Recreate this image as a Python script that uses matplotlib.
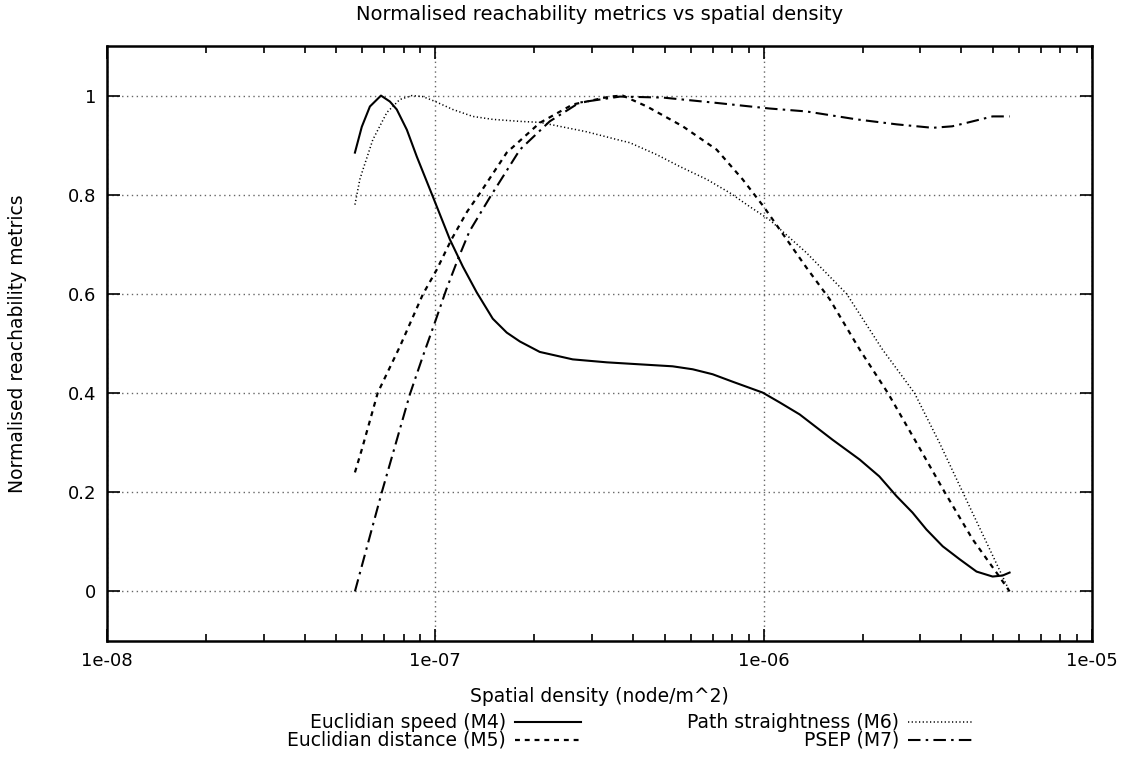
import numpy as np
import matplotlib
matplotlib.use('Agg')
import matplotlib.pyplot as plt
from matplotlib.lines import Line2D
from matplotlib.ticker import LogLocator, NullFormatter

plt.rcParams['font.family'] = ['DejaVu Sans']
plt.rcParams['font.size'] = 13.5

# datos (densidad, metrica normalizada)
m4_x = [5.69e-8, 5.97e-8, 6.32e-8, 6.83e-8, 7.27e-8, 7.63e-8, 8.19e-8, 8.78e-8, 9.83e-8,
        1.107e-7, 1.213e-7, 1.337e-7, 1.496e-7, 1.65e-7, 1.81e-7, 2.08e-7, 2.62e-7,
        3.33e-7, 4.19e-7, 5.28e-7, 6.08e-7, 6.99e-7, 8.04e-7, 9.93e-7, 1.12e-6,
        1.287e-6, 1.62e-6, 1.96e-6, 2.25e-6, 2.54e-6, 2.84e-6, 3.13e-6, 3.51e-6,
        3.95e-6, 4.45e-6, 4.98e-6, 5.34e-6, 5.61e-6]
m4_y = [0.885, 0.937, 0.978, 1.0, 0.988, 0.972, 0.931, 0.877, 0.796,
        0.710, 0.655, 0.603, 0.550, 0.522, 0.504, 0.483, 0.468,
        0.462, 0.458, 0.454, 0.448, 0.438, 0.423, 0.401, 0.381,
        0.357, 0.306, 0.266, 0.232, 0.192, 0.159, 0.125, 0.091,
        0.065, 0.040, 0.030, 0.032, 0.038]

m5_x = [5.69e-8, 5.97e-8, 6.68e-8, 7.8e-8, 9.16e-8, 1.01e-7, 1.12e-7, 1.25e-7, 1.37e-7,
        1.65e-7, 2.08e-7, 2.62e-7, 3.4e-7, 3.72e-7, 4.41e-7, 5.67e-7, 7.19e-7, 8.63e-7,
        1.0e-6, 1.35e-6, 1.59e-6, 1.96e-6, 2.39e-6, 2.92e-6, 3.56e-6, 4.33e-6,
        5.22e-6, 5.61e-6]
m5_y = [0.24, 0.286, 0.401, 0.494, 0.599, 0.649, 0.710, 0.766, 0.804,
        0.885, 0.945, 0.982, 0.998, 1.0, 0.978, 0.938, 0.891, 0.831,
        0.776, 0.653, 0.589, 0.488, 0.4, 0.3, 0.2, 0.105,
        0.03, 0.0]

m6_x = [5.69e-8, 5.89e-8, 6.02e-8, 6.19e-8, 6.45e-8, 7.12e-8, 7.79e-8, 8.48e-8, 9.16e-8,
        1.0e-7, 1.13e-7, 1.30e-7, 1.496e-7, 1.81e-7, 2.08e-7, 2.39e-7, 2.89e-7,
        3.59e-7, 3.91e-7, 4.72e-7, 5.55e-7, 6.71e-7, 7.88e-7, 9.07e-7, 1.04e-6,
        1.35e-6, 1.79e-6, 2.30e-6, 2.88e-6, 3.43e-6, 4.04e-6, 4.77e-6, 5.61e-6]
m6_y = [0.780, 0.831, 0.851, 0.875, 0.911, 0.966, 0.992, 1.0, 0.998,
        0.988, 0.972, 0.958, 0.952, 0.948, 0.946, 0.938, 0.927,
        0.911, 0.905, 0.881, 0.857, 0.831, 0.804, 0.776, 0.75,
        0.683, 0.6, 0.488, 0.4, 0.3, 0.2, 0.099, 0.0]

m7_x = [5.69e-8, 6.87e-8, 8.36e-8, 9.16e-8, 1.0e-7, 1.08e-7, 1.17e-7, 1.27e-7, 1.47e-7,
        1.81e-7, 2.23e-7, 2.75e-7, 3.65e-7, 4.93e-7, 7.0e-7, 1.04e-6, 1.35e-6,
        1.92e-6, 2.54e-6, 3.27e-6, 3.75e-6, 4.15e-6, 4.98e-6, 5.61e-6]
m7_y = [0.0, 0.2, 0.397, 0.474, 0.545, 0.609, 0.669, 0.726, 0.796,
        0.891, 0.948, 0.986, 0.998, 0.996, 0.986, 0.974, 0.968,
        0.952, 0.942, 0.935, 0.938, 0.945, 0.958, 0.958]

labels = ['Euclidian speed (M4)', 'Euclidian distance (M5)',
          'Path straightness (M6)', 'PSEP (M7)']
estilos = [('-', 1.5), ((0, (2.2, 2.2)), 1.6), ((0, (0.8, 1.6)), 1.1),
           ((0, (6, 2.5, 1.2, 2.5)), 1.5)]

W, H = 1126, 769
fig = plt.figure(figsize=(W/100, H/100), dpi=100)
ax = fig.add_axes([107/W, 1-641/H, (1092-107)/W, (641-46)/H])

series = [(m4_x, m4_y), (m5_x, m5_y), (m6_x, m6_y), (m7_x, m7_y)]
for (xs, ys), (ls, lw) in zip(series, estilos):
    ax.plot(xs, ys, color='black', linestyle=ls, linewidth=lw)

ax.set_xscale('log')
ax.set_xlim(1e-8, 1e-5)
ax.set_ylim(-0.1, 1.1)
ax.set_xticks([1e-8, 1e-7, 1e-6, 1e-5])
ax.set_xticklabels(['1e-08', '1e-07', '1e-06', '1e-05'])
ax.xaxis.set_minor_locator(LogLocator(base=10, subs=np.arange(2, 10)))
ax.xaxis.set_minor_formatter(NullFormatter())
ax.set_yticks([0, 0.2, 0.4, 0.6, 0.8, 1])
ax.set_yticklabels(['0', '0.2', '0.4', '0.6', '0.8', '1'])

ax.tick_params(which='both', direction='in', top=True, right=True, width=1.2,
               labelsize=13)
ax.tick_params(which='major', length=9, pad=8)
ax.tick_params(which='minor', length=5)
for s in ax.spines.values():
    s.set_linewidth(1.8)

ax.grid(True, which='major', color='0.4', linestyle=(0, (1, 2.5)), linewidth=1)

ax.set_xlabel('Spatial density (node/m^2)', va='center')
ax.xaxis.set_label_coords(0.5, (641-697)/(641-46))
ax.set_ylabel('Normalised reachability metrics', va='center')
ax.yaxis.set_label_coords((18-107)/(1092-107), 0.5)
fig.text(600/W, 1-15/H, 'Normalised reachability metrics vs spatial density',
         ha='center', va='center', fontsize=14)

# leyenda estilo gnuplot (texto a la derecha, muestra despues)
pos = [(506, 722), (506, 740), (899, 722), (899, 740)]
for (px, py), lab, (ls, lw) in zip(pos, labels, estilos):
    fy = 1 - py/H
    fig.text(px/W, fy, lab, ha='right', va='center')
    fig.add_artist(Line2D([(px+9)/W, (px+75)/W], [fy, fy], color='black',
                          linestyle=ls, linewidth=lw))

fig.savefig('out.png', dpi=100)
